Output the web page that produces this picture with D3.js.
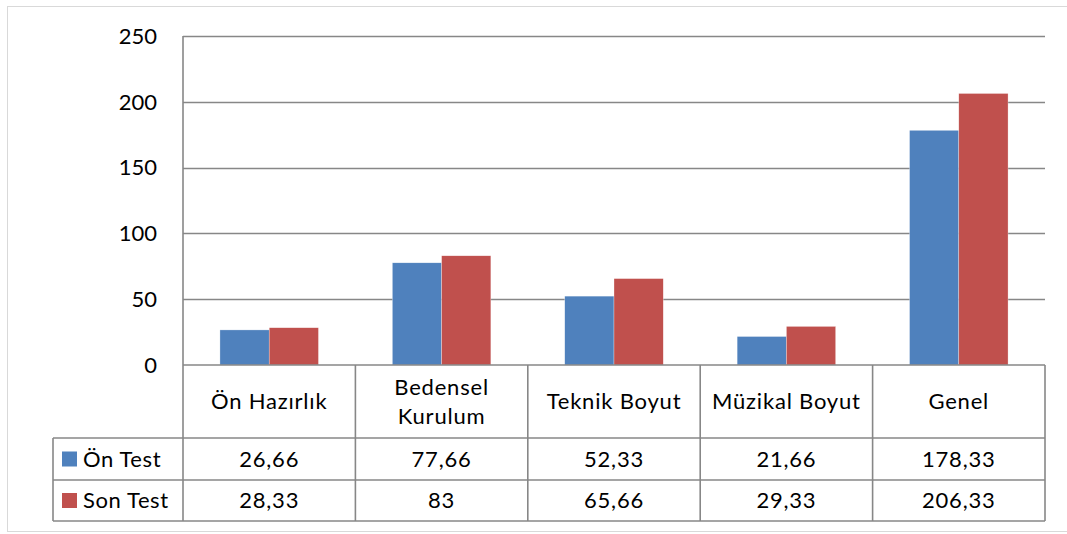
<!DOCTYPE html>
<html>
<head>
<meta charset="utf-8">
<script src="https://cdn.jsdelivr.net/npm/d3@7"></script>
<style>
  body { margin: 0; background: #fff; }
  text { font-family: Lato, "Open Sans", sans-serif; fill: #000; }
</style>
</head>
<body>
<div id="chart"></div>
<script>
// data
const categories = ["Ön Hazırlık", "Bedensel Kurulum", "Teknik Boyut", "Müzikal Boyut", "Genel"];
const seriesNames = ["Ön Test", "Son Test"];
const onTest = [26.66, 77.66, 52.33, 21.66, 178.33];
const sonTest = [28.33, 83, 65.66, 29.33, 206.33];
const yTicks = [0, 50, 100, 150, 200, 250];
const colors = ["#4F81BD", "#C0504D"];

const W = 1067, H = 534;
const plot = { left: 183, right: 1045, top: 36, bottom: 365 };
const rowH = [73, 42, 41]; // category row, series rows
const legendLeft = 53;
const gridColor = "#878787";
const fontSize = "22px";

const svg = d3.select("#chart").append("svg")
  .attr("width", W).attr("height", H);

// outer frame
svg.append("rect")
  .attr("x", 7.5).attr("y", 6.5)
  .attr("width", W + 10).attr("height", 525)
  .attr("fill", "none").attr("stroke", "#d9d9d9");

const y = d3.scaleLinear().domain([0, 250]).range([plot.bottom, plot.top]);
const x0 = d3.scaleBand().domain(categories).range([plot.left, plot.right]).paddingInner(0).paddingOuter(0);
// gap width 150% -> split on both sides of the pair
const x1 = d3.scaleBand().domain(seriesNames).range([0, x0.bandwidth()]).paddingInner(0).paddingOuter(0.75);

// gridlines
svg.append("g")
  .selectAll("line")
  .data(yTicks.filter(d => d > 0))
  .join("line")
  .attr("x1", plot.left).attr("x2", plot.right)
  .attr("y1", d => Math.round(y(d)) + 0.5).attr("y2", d => Math.round(y(d)) + 0.5)
  .attr("stroke", gridColor).attr("stroke-width", 1.6);

// y tick labels
svg.append("g")
  .selectAll("text")
  .data(yTicks)
  .join("text")
  .attr("x", 157)
  .attr("y", d => y(d))
  .attr("dy", "0.35em")
  .attr("text-anchor", "end")
  .style("font-size", fontSize)
  .text(d => d);

// bars
const rows = [onTest, sonTest];
const bars = svg.append("g");
seriesNames.forEach((s, si) => {
  bars.selectAll(".b" + si)
    .data(categories.map((c, i) => ({ c, v: rows[si][i] })))
    .join("rect")
    .attr("class", "b" + si)
    .attr("x", d => x0(d.c) + x1(s))
    .attr("y", d => y(d.v))
    .attr("width", x1.bandwidth())
    .attr("height", d => y(0) - y(d.v))
    .attr("fill", colors[si])
    .attr("stroke", "#fff").attr("stroke-width", 0.5).attr("stroke-opacity", 0.6);
});

// data table
const tTop = plot.bottom;
const r1 = tTop + rowH[0], r2 = r1 + rowH[1], r3 = r2 + rowH[2];
const tbl = svg.append("g").attr("stroke", gridColor).attr("stroke-width", 1.6);

// horizontal lines
tbl.append("line").attr("x1", plot.left).attr("x2", plot.right).attr("y1", tTop).attr("y2", tTop);
[r1, r2, r3].forEach(yy => {
  tbl.append("line").attr("x1", legendLeft).attr("x2", plot.right).attr("y1", yy).attr("y2", yy);
});
// vertical lines
tbl.append("line").attr("x1", plot.left).attr("x2", plot.left).attr("y1", plot.top).attr("y2", r3);
tbl.append("line").attr("x1", legendLeft).attr("x2", legendLeft).attr("y1", r1).attr("y2", r3);
categories.forEach(c => {
  const xe = x0(c) + x0.bandwidth();
  tbl.append("line").attr("x1", xe).attr("x2", xe).attr("y1", tTop).attr("y2", r3);
});

// category labels (wrap where needed)
const wrapped = { "Bedensel Kurulum": ["Bedensel", "Kurulum"] };
const catG = svg.append("g")
  .style("font-size", fontSize).style("letter-spacing", "0.8px")
  .attr("text-anchor", "middle");
categories.forEach(c => {
  const lines = wrapped[c] || [c];
  const cx = x0(c) + x0.bandwidth() / 2;
  const cy = tTop + rowH[0] / 2;
  lines.forEach((ln, i) => {
    catG.append("text")
      .attr("x", cx)
      .attr("y", cy + (i - (lines.length - 1) / 2) * 29)
      .attr("dy", "0.35em")
      .text(ln);
  });
});

// series rows
const fmt = v => String(v).replace(".", ",");
seriesNames.forEach((s, si) => {
  const top = si === 0 ? r1 : r2;
  const h = rowH[si + 1];
  const cy = top + h / 2;
  svg.append("rect")
    .attr("x", 62).attr("y", cy - 7.5)
    .attr("width", 15).attr("height", 15)
    .attr("fill", colors[si]);
  svg.append("text")
    .attr("x", 83).attr("y", cy).attr("dy", "0.35em")
    .style("font-size", fontSize).style("letter-spacing", "0.6px")
    .text(s);
  svg.append("g").selectAll("text")
    .data(categories.map((c, i) => ({ c, v: rows[si][i] })))
    .join("text")
    .attr("x", d => x0(d.c) + x0.bandwidth() / 2)
    .attr("y", cy).attr("dy", "0.35em")
    .attr("text-anchor", "middle")
    .style("font-size", fontSize).style("letter-spacing", "0.8px")
    .text(d => fmt(d.v));
});
</script>
</body>
</html>
